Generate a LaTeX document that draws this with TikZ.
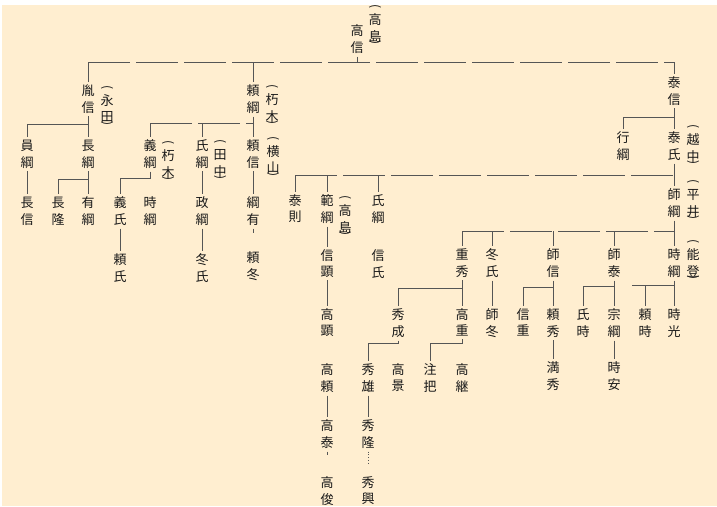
\documentclass[tikz,border=0pt]{standalone}
\usepackage{fontspec}
\setmainfont{Noto Sans CJK JP}
\definecolor{bg}{RGB}{255,238,208}
\definecolor{ink}{RGB}{25,25,25}
\definecolor{lin}{RGB}{85,85,85}
\tikzset{
 nm/.style={anchor=north, inner sep=0pt, outer sep=3pt, align=center, text=ink, font=\fontsize{13}{15.5}\selectfont},
 pr/.style={inner sep=0pt, text=ink, rotate=-90, font=\fontsize{12}{14}\selectfont},
 ln/.style={draw=lin, line width=0.8pt},
 longln/.style={ln, dash pattern=on 42pt off 6pt},
}
\newcommand{\vn}[4]{\node[nm] (#1) at (#2,#3-6) {\strut #4};}
\newcommand{\vp}[4]{\node[nm] (#1) at (#2,#3-6) {\strut #4};
  \node[pr] (#1a) at (#2,#3-10.5) {(};
  \node[pr] (#1b) at (#2,#3+26) {)};}
\begin{document}
\begin{tikzpicture}[x=1pt,y=-1pt]
\useasboundingbox (0,0) rectangle (717,506);
\fill[white] (0,0) rectangle (717,506);
\fill[bg] (2,5) rectangle (717,506);
% ---- nodes
\vn{gx}{357}{28}{高\\信}
\vp{gxp}{375}{17}{高\\島}
\vn{tx}{88}{88}{胤\\信}
\vp{txp}{107}{98}{永\\田}
\vn{lg}{253}{88}{頼\\綱}
\vp{lgp}{272}{97}{朽\\木}
\vn{tsx}{674}{80}{泰\\信}
\vn{yg}{27}{143}{員\\綱}
\vn{cg}{88}{143}{長\\綱}
\vn{cx}{27}{200}{長\\信}
\vn{cl}{58}{200}{長\\隆}
\vn{yug}{88}{200}{有\\綱}
\vn{yig}{150}{143}{義\\綱}
\vp{yigp}{168}{153}{朽\\木}
\vn{sg}{202}{143}{氏\\綱}
\vp{sgp}{220}{152}{田\\中}
\vn{lx}{253}{143}{頼\\信}
\vp{lxp}{273}{149}{横\\山}
\vn{ys}{120}{200}{義\\氏}
\vn{sgb}{150}{200}{時\\綱}
\vn{ls}{120}{257}{頼\\氏}
\vn{zg}{202}{200}{政\\綱}
\vn{ds}{202}{257}{冬\\氏}
\vn{gy}{253}{200}{綱\\有}
\vn{ld}{253}{255}{頼\\冬}
\vn{xg}{623}{135}{行\\綱}
\vn{ts}{674}{135}{泰\\氏}
\vp{tsp}{693}{137}{越\\中}
\vn{tz}{295}{198}{泰\\則}
\vn{fg}{327}{198}{範\\綱}
\vp{fgp}{345}{208}{高\\島}
\vn{sgc}{378}{198}{氏\\綱}
\vn{sgg}{674}{192}{師\\綱}
\vp{sggp}{693}{192}{平\\井}
\vn{xx}{327}{253}{信\\顕}
\vn{gxn}{327}{312}{高\\顕}
\vn{gl}{327}{367}{高\\頼}
\vn{gt}{327}{423}{高\\泰}
\vn{gj}{327}{480}{高\\俊}
\vn{xs}{378}{253}{信\\氏}
\vn{zx}{462}{252}{重\\秀}
\vn{dsb}{492}{252}{冬\\氏}
\vn{sx}{553}{252}{師\\信}
\vn{st}{614}{252}{師\\泰}
\vn{sgd}{674}{252}{時\\綱}
\vp{sgdp}{693}{252}{能\\登}
\vn{gz}{462}{312}{高\\重}
\vn{xc}{398}{312}{秀\\成}
\vn{sd}{492}{312}{師\\冬}
\vn{xz}{523}{312}{信\\重}
\vn{lxb}{553}{312}{頼\\秀}
\vn{ss}{583}{312}{氏\\時}
\vn{zgb}{614}{312}{宗\\綱}
\vn{lsb}{645}{312}{頼\\時}
\vn{sgu}{674}{312}{時\\光}
\vn{mx}{553}{365}{満\\秀}
\vn{sa}{614}{365}{時\\安}
\vn{xy}{368}{367}{秀\\雄}
\vn{gjg}{398}{367}{高\\景}
\vn{zb}{430}{367}{注\\把}
\vn{gjx}{462}{367}{高\\継}
\vn{xl}{368}{423}{秀\\隆}
\vn{xk}{368}{480}{秀\\興}
% ---- connectors
\coordinate (jt) at (357,62);
\draw[ln] (gx) -- (jt);
\draw[ln] (tx) -- (tx|-jt);
\draw[longln] (tx|-jt) -- (tsx|-jt);
\draw[ln] (lg|-jt) -- (lg);
\draw[ln] (tsx|-jt) -- (tsx);
% 胤信
\coordinate (j1) at (88,124);
\draw[ln] (tx) -- (cg);
\draw[ln] (yg) -- (yg|-j1) -- (j1);
\draw[ln] (yg) -- (cx);
\coordinate (j3) at (88,179);
\draw[ln] (cg) -- (yug);
\draw[ln] (cl) -- (cl|-j3) -- (j3);
% 頼綱
\coordinate (j2) at (253,123);
\draw[ln] (lg) -- (lx);
\draw[longln] (yig|-j2) -- (j2);
\draw[ln] (yig|-j2) -- (yig);
\draw[ln] (sg|-j2) -- (sg);
\coordinate (j4) at (150,178);
\draw[ln] (yig) -- (j4) -- (ys|-j4) -- (ys);
\draw[ln] (ys) -- (ls);
\draw[ln] (sg) -- (zg);
\draw[ln] (zg) -- (ds);
\draw[ln] (lx) -- (gy);
\draw[ln, shorten >=16pt] (gy) -- (ld);
% 泰信
\draw[ln] (tsx) -- (ts);
\coordinate (j5) at (674,117);
\draw[ln] (xg) -- (xg|-j5) -- (j5);
% 泰氏
\coordinate (j6) at (674,175);
\draw[ln] (ts) -- (sgg);
\draw[longln] (tz|-j6) -- (j6);
\draw[ln] (tz|-j6) -- (tz);
\draw[ln] (fg|-j6) -- (fg);
\draw[ln] (sgc|-j6) -- (sgc);
\draw[ln] (fg) -- (xx);
\draw[ln] (xx) -- (gxn);
\draw[ln] (gl) -- (gt);
\draw[ln, shorten >=19pt] (gt) -- (gj);
% 師綱
\coordinate (j7) at (674,231);
\draw[ln] (sgg) -- (sgd);
\draw[longln] (zx|-j7) -- (j7);
\draw[ln] (zx|-j7) -- (zx);
\draw[ln] (dsb|-j7) -- (dsb);
\draw[ln] (sx|-j7) -- (sx);
\draw[ln] (st|-j7) -- (st);
% 重秀
\coordinate (j8) at (462,288);
\draw[ln] (zx) -- (gz);
\draw[ln] (xc) -- (xc|-j8) -- (j8);
\draw[ln] (dsb) -- (sd);
% 師信
\coordinate (j9) at (553,287);
\draw[ln] (sx) -- (lxb);
\draw[ln] (xz) -- (xz|-j9) -- (j9);
\draw[ln] (lxb) -- (mx);
% 師泰
\coordinate (j10) at (614,286);
\draw[ln] (st) -- (zgb);
\draw[ln] (ss) -- (ss|-j10) -- (j10);
\draw[ln] (zgb) -- (sa);
% 時綱
\coordinate (j11) at (674,285);
\coordinate (j11l) at (632,285);
\draw[ln] (sgd) -- (sgu);
\draw[ln] (j11l) -- (j11);
\draw[ln] (lsb|-j11) -- (lsb);
% 高重
\coordinate (j12) at (462,343);
\draw[ln] (gz) -- (j12) -- (zb|-j12) -- (zb);
% 秀成
\coordinate (j13) at (398,343);
\draw[ln] (xc) -- (j13) -- (xy|-j13) -- (xy);
\draw[ln] (xy) -- (xl);
\draw[ln, dotted, shorten >=10pt] (xl) -- (xk);
\end{tikzpicture}
\end{document}
